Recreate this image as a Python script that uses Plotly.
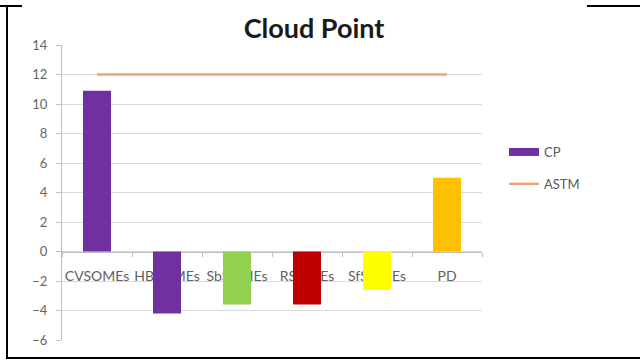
import plotly.graph_objects as go

categories = ["CVSOMEs", "HBSOMEs", "SbSOMEs", "RSOMEs", "SfSOMEs", "PD"]
cp_values = [10.9, -4.2, -3.6, -3.6, -2.6, 5.0]
astm_values = [12, 12, 12, 12, 12, 12]
bar_colors = ["#7030A0", "#7030A0", "#92D050", "#C00000", "#FFFF00", "#FFC000"]
y_ticks = [14, 12, 10, 8, 6, 4, 2, 0, -2, -4, -6]

y_min, y_max = -6, 14
W, H = 640, 360
ml, mr, mt, mb = 62, 158, 45, 20

fig = go.Figure()
fig.add_trace(go.Bar(
    x=categories, y=cp_values, name="CP", showlegend=False,
    legendgroup="cp",
    marker=dict(color=bar_colors, line=dict(width=0)),
))
# wide legend swatch for the CP series
fig.add_trace(go.Scatter(
    x=[None], y=[None], name="CP", mode="lines", legendgroup="cp",
    line=dict(color=bar_colors[0], width=8),
))
fig.add_trace(go.Scatter(
    x=categories, y=astm_values, name="ASTM", mode="lines", legendgroup="astm",
    line=dict(color="#EFA272", width=2.5),
))

# paper coords helpers for the table-cell frame drawn around the chart
def px(x):
    return (x - ml) / (W - ml - mr)

def py(y):
    return (H - mb - y) / (H - mt - mb)

frame = dict(type="line", xref="paper", yref="paper", line=dict(color="black", width=2))
shapes = [
    dict(frame, x0=px(7), x1=px(7), y0=py(6), y1=py(359)),
    dict(frame, x0=px(0), x1=px(22), y0=py(6), y1=py(6)),
    dict(frame, x0=px(587), x1=px(640), y0=py(6), y1=py(6)),
    dict(frame, x0=px(7), x1=px(640), y0=py(358), y1=py(358)),
]

zero_pos = (0 - y_min) / (y_max - y_min)

fig.update_layout(
    width=W, height=H,
    margin=dict(l=ml, r=mr, t=mt, b=mb),
    paper_bgcolor="white", plot_bgcolor="white",
    bargap=0.6,
    title=dict(text="<b>Cloud Point</b>", x=314 / W, xanchor="center",
               y=1 - 29 / H, yanchor="middle",
               font=dict(family="Lato", size=27, color="#1a1a1a")),
    font=dict(family="Lato", color="#595959", size=12),
    xaxis=dict(
        anchor="free", position=zero_pos, layer="below traces",
        showline=True, linecolor="#BFBFBF", linewidth=1,
        ticks="outside", ticklen=4, tickcolor="#BFBFBF",
        tickson="boundaries", showgrid=False, ticklabelstandoff=12,
        tickangle=0,
        tickfont=dict(size=14, color="#606060"),
    ),
    yaxis=dict(
        range=[y_min, y_max], tickvals=y_ticks, showgrid=True,
        gridcolor="#D9D9D9", gridwidth=1, zeroline=False,
        showline=True, linecolor="#BFBFBF", linewidth=1,
        ticks="outside", ticklen=5, tickcolor="#BFBFBF",
        ticklabelstandoff=6,
        tickfont=dict(size=13, color="#666666"),
    ),
    legend=dict(x=px(504), y=py(168), xanchor="left", yanchor="middle",
                font=dict(size=13, color="#595959"), bgcolor="rgba(0,0,0,0)",
                tracegroupgap=12, traceorder="grouped", itemwidth=30),
    shapes=shapes,
    showlegend=True,
)

fig.write_html("out.html")
